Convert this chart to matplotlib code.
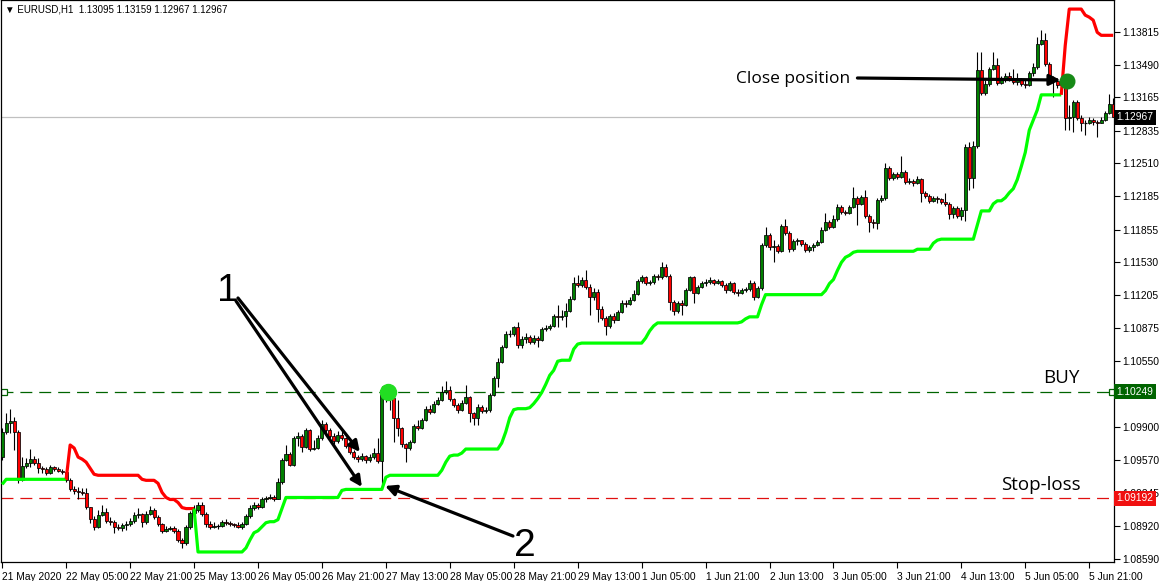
import numpy as np
import matplotlib
matplotlib.use('Agg')
import matplotlib.pyplot as plt
from matplotlib.transforms import blended_transform_factory

plt.rcParams['font.family'] = ['Liberation Sans', 'DejaVu Sans']
plt.rcParams['lines.scale_dashes'] = False

# ---------------- data (EURUSD H1) ----------------
first_open = 1.0960
close = [
    1.0985, 1.0994, 1.0996, 1.0985, 1.0937, 1.0951, 1.0954, 1.0958, 1.0954, 1.0949,
    1.0948, 1.0944, 1.0950, 1.0948, 1.0946, 1.0945, 1.0937, 1.0928, 1.0926, 1.0925,
    1.0924, 1.0911, 1.0899, 1.0891, 1.0903, 1.0906, 1.0897, 1.0896, 1.0891, 1.0890,
    1.0893, 1.0894, 1.0897, 1.0903, 1.0904, 1.0896, 1.0904, 1.0908, 1.0901, 1.0894,
    1.0887, 1.0889, 1.0890, 1.0887, 1.0878, 1.0875, 1.0891, 1.0905, 1.0908, 1.0913,
    1.0904, 1.0894, 1.0891, 1.0892, 1.0892, 1.0896, 1.0895, 1.0894, 1.0893, 1.0891,
    1.0894, 1.0902, 1.0910, 1.0913, 1.0911, 1.0918, 1.0919, 1.0920, 1.0918, 1.0935,
    1.0957, 1.0963, 1.0952, 1.0979, 1.0981, 1.0970, 1.0987, 1.0968, 1.0969, 1.0979,
    1.0993, 1.0987, 1.0981, 1.0976, 1.0982, 1.0979, 1.0971, 1.0965, 1.0960, 1.0958,
    1.0961, 1.0957, 1.0960, 1.0964, 1.0956, 1.1027, 1.1024, 1.1019, 1.0999, 1.0989,
    1.0973, 1.0969, 1.0975, 1.0991, 1.0989, 1.0997, 1.1008, 1.1005, 1.1013, 1.1017,
    1.1025, 1.1027, 1.1018, 1.1012, 1.1007, 1.1014, 1.1020, 1.1004, 1.0999, 1.1010,
    1.1006, 1.1007, 1.1022, 1.1038, 1.1054, 1.1069, 1.1082, 1.1082, 1.1089, 1.1071,
    1.1077, 1.1079, 1.1074, 1.1078, 1.1076, 1.1087, 1.1088, 1.1090, 1.1100, 1.1099,
    1.1100, 1.1105, 1.1117, 1.1133, 1.1131, 1.1136, 1.1129, 1.1119, 1.1124, 1.1107,
    1.1098, 1.1090, 1.1100, 1.1096, 1.1104, 1.1113, 1.1112, 1.1116, 1.1122, 1.1135,
    1.1138, 1.1133, 1.1134, 1.1139, 1.1138, 1.1148, 1.1139, 1.1114, 1.1105, 1.1113,
    1.1111, 1.1126, 1.1138, 1.1123, 1.1129, 1.1133, 1.1134, 1.1136, 1.1133, 1.1135,
    1.1131, 1.1126, 1.1133, 1.1124, 1.1123, 1.1126, 1.1127, 1.1133, 1.1119, 1.1128,
    1.1170, 1.1180, 1.1168, 1.1169, 1.1164, 1.1189, 1.1182, 1.1166, 1.1174, 1.1175,
    1.1171, 1.1165, 1.1168, 1.1170, 1.1173, 1.1185, 1.1193, 1.1188, 1.1196, 1.1208,
    1.1203, 1.1202, 1.1208, 1.1217, 1.1211, 1.1218, 1.1199, 1.1193, 1.1192, 1.1215,
    1.1217, 1.1247, 1.1237, 1.1241, 1.1238, 1.1243, 1.1233, 1.1234, 1.1232, 1.1236,
    1.1222, 1.1219, 1.1214, 1.1217, 1.1216, 1.1213, 1.1211, 1.1201, 1.1207, 1.1199,
    1.1205, 1.1267, 1.1237, 1.1268, 1.1344, 1.1321, 1.1330, 1.1345, 1.1349, 1.1331,
    1.1334, 1.1338, 1.1335, 1.1332, 1.1334, 1.1330, 1.1329, 1.1341, 1.1347, 1.1369,
    1.1373, 1.1350, 1.1334, 1.1333, 1.1329, 1.1331, 1.1296, 1.1297, 1.1312, 1.1296,
    1.1291, 1.1291, 1.1294, 1.1292, 1.1291, 1.1294, 1.1301, 1.13095, 1.12967,
]
high = [
    1.0989, 1.1004, 1.1008, 1.1000, 1.0987, 1.0960, 1.0959, 1.0968, 1.0961, 1.0959,
    1.0951, 1.0950, 1.0952, 1.0951, 1.0950, 1.0948, 1.0946, 1.0939, 1.0931, 1.0930,
    1.0929, 1.0929, 1.0911, 1.0902, 1.0908, 1.0913, 1.0910, 1.0901, 1.0898, 1.0894,
    1.0895, 1.0897, 1.0900, 1.0906, 1.0910, 1.0905, 1.0907, 1.0912, 1.0910, 1.0903,
    1.0895, 1.0892, 1.0892, 1.0892, 1.0889, 1.0880, 1.0893, 1.0907, 1.0913, 1.0916,
    1.0916, 1.0906, 1.0897, 1.0896, 1.0894, 1.0898, 1.0899, 1.0897, 1.0895, 1.0896,
    1.0896, 1.0904, 1.0913, 1.0916, 1.0915, 1.0920, 1.0921, 1.0923, 1.0922, 1.0939,
    1.0959, 1.0972, 1.0965, 1.0981, 1.0985, 1.0983, 1.0989, 1.0988, 1.0977, 1.0982,
    1.0997, 1.0995, 1.0989, 1.0984, 1.0986, 1.0987, 1.0980, 1.0973, 1.0967, 1.0962,
    1.0964, 1.0962, 1.0963, 1.0969, 1.0979, 1.1030, 1.1029, 1.1024, 1.1019, 1.1017,
    1.0990, 1.0974, 1.0977, 1.0993, 1.0997, 1.0999, 1.1011, 1.1012, 1.1016, 1.1020,
    1.1030, 1.1035, 1.1030, 1.1019, 1.1014, 1.1017, 1.1031, 1.1021, 1.1005, 1.1013,
    1.1012, 1.1010, 1.1024, 1.1040, 1.1058, 1.1071, 1.1085, 1.1086, 1.1090, 1.1094,
    1.1080, 1.1083, 1.1081, 1.1081, 1.1080, 1.1089, 1.1091, 1.1092, 1.1102, 1.1111,
    1.1106, 1.1113, 1.1120, 1.1138, 1.1140, 1.1138, 1.1145, 1.1132, 1.1128, 1.1127,
    1.1110, 1.1100, 1.1102, 1.1103, 1.1106, 1.1116, 1.1116, 1.1119, 1.1126, 1.1137,
    1.1140, 1.1139, 1.1136, 1.1141, 1.1141, 1.1153, 1.1151, 1.1141, 1.1116, 1.1115,
    1.1116, 1.1128, 1.1139, 1.1139, 1.1131, 1.1135, 1.1137, 1.1138, 1.1137, 1.1137,
    1.1136, 1.1133, 1.1135, 1.1134, 1.1127, 1.1128, 1.1129, 1.1136, 1.1135, 1.1130,
    1.1172, 1.1188, 1.1182, 1.1175, 1.1171, 1.1191, 1.1196, 1.1184, 1.1176, 1.1177,
    1.1175, 1.1173, 1.1170, 1.1172, 1.1175, 1.1188, 1.1202, 1.1195, 1.1200, 1.1211,
    1.1210, 1.1205, 1.1210, 1.1228, 1.1219, 1.1220, 1.1225, 1.1201, 1.1196, 1.1217,
    1.1220, 1.1251, 1.1248, 1.1243, 1.1243, 1.1258, 1.1245, 1.1237, 1.1236, 1.1239,
    1.1237, 1.1224, 1.1221, 1.1219, 1.1219, 1.1217, 1.1222, 1.1213, 1.1209, 1.1209,
    1.1208, 1.1270, 1.1272, 1.1273, 1.1361, 1.1361, 1.1334, 1.1347, 1.1361, 1.1356,
    1.1338, 1.1341, 1.1342, 1.1345, 1.1341, 1.1336, 1.1334, 1.1343, 1.1351, 1.1376,
    1.1383, 1.1380, 1.1352, 1.1338, 1.1336, 1.1335, 1.1334, 1.1309, 1.1314, 1.1314,
    1.1299, 1.1294, 1.1297, 1.1296, 1.1294, 1.1297, 1.1303, 1.1320, 1.13159,
]
low = [
    1.0957, 1.0983, 1.0984, 1.0967, 1.0934, 1.0936, 1.0949, 1.0950, 1.0952, 1.0944,
    1.0944, 1.0942, 1.0943, 1.0946, 1.0945, 1.0943, 1.0935, 1.0926, 1.0923, 1.0918,
    1.0922, 1.0909, 1.0895, 1.0888, 1.0890, 1.0902, 1.0895, 1.0893, 1.0885, 1.0888,
    1.0887, 1.0888, 1.0892, 1.0895, 1.0900, 1.0891, 1.0894, 1.0903, 1.0899, 1.0892,
    1.0885, 1.0886, 1.0888, 1.0885, 1.0876, 1.0870, 1.0873, 1.0889, 1.0903, 1.0906,
    1.0902, 1.0891, 1.0889, 1.0890, 1.0889, 1.0891, 1.0893, 1.0892, 1.0891, 1.0890,
    1.0889, 1.0893, 1.0900, 1.0908, 1.0909, 1.0910, 1.0916, 1.0918, 1.0917, 1.0918,
    1.0933, 1.0956, 1.0951, 1.0951, 1.0971, 1.0965, 1.0969, 1.0966, 1.0967, 1.0968,
    1.0977, 1.0983, 1.0979, 1.0973, 1.0974, 1.0977, 1.0969, 1.0963, 1.0958, 1.0955,
    1.0956, 1.0954, 1.0955, 1.0958, 1.0954, 1.0932, 1.1015, 1.1007, 1.0975, 1.0981,
    1.0970, 1.0955, 1.0967, 1.0974, 1.0987, 1.0988, 1.0996, 1.1003, 1.1004, 1.1012,
    1.1016, 1.1023, 1.1016, 1.1010, 1.1004, 1.1006, 1.1013, 1.0995, 1.0992, 1.0992,
    1.1004, 1.1004, 1.1005, 1.1021, 1.1029, 1.1053, 1.1068, 1.1079, 1.1080, 1.1068,
    1.1068, 1.1073, 1.1072, 1.1072, 1.1069, 1.1075, 1.1085, 1.1086, 1.1089, 1.1089,
    1.1096, 1.1089, 1.1104, 1.1116, 1.1129, 1.1129, 1.1127, 1.1101, 1.1116, 1.1094,
    1.1096, 1.1081, 1.1088, 1.1093, 1.1096, 1.1103, 1.1109, 1.1111, 1.1115, 1.1121,
    1.1133, 1.1131, 1.1131, 1.1132, 1.1136, 1.1137, 1.1138, 1.1106, 1.1101, 1.1103,
    1.1101, 1.1110, 1.1125, 1.1113, 1.1122, 1.1128, 1.1130, 1.1132, 1.1131, 1.1132,
    1.1129, 1.1123, 1.1125, 1.1122, 1.1120, 1.1122, 1.1124, 1.1125, 1.1116, 1.1118,
    1.1126, 1.1168, 1.1165, 1.1153, 1.1162, 1.1163, 1.1180, 1.1163, 1.1164, 1.1170,
    1.1169, 1.1163, 1.1163, 1.1164, 1.1169, 1.1172, 1.1184, 1.1186, 1.1187, 1.1194,
    1.1201, 1.1200, 1.1201, 1.1207, 1.1190, 1.1210, 1.1197, 1.1183, 1.1187, 1.1186,
    1.1213, 1.1215, 1.1235, 1.1235, 1.1236, 1.1237, 1.1231, 1.1231, 1.1229, 1.1231,
    1.1213, 1.1217, 1.1212, 1.1213, 1.1212, 1.1211, 1.1209, 1.1196, 1.1197, 1.1197,
    1.1195, 1.1194, 1.1225, 1.1227, 1.1266, 1.1319, 1.1319, 1.1328, 1.1344, 1.1329,
    1.1330, 1.1332, 1.1333, 1.1330, 1.1329, 1.1328, 1.1326, 1.1328, 1.1338, 1.1345,
    1.1368, 1.1348, 1.1330, 1.1317, 1.1326, 1.1326, 1.1284, 1.1284, 1.1282, 1.1294,
    1.1283, 1.1279, 1.1290, 1.1289, 1.1277, 1.1291, 1.1293, 1.1300, 1.12967,
]

# SuperTrend-like trailing line, split into up (green) and down (red) segments
up1_start = 0
up1 = [1.0933, 1.0938, 1.0938, 1.0938, 1.0938, 1.0938, 1.0938, 1.0938, 1.0938,
       1.0938, 1.0938, 1.0938, 1.0938, 1.0938, 1.0938, 1.0938, 1.0938]
down1_start = 16
down1 = [1.0938, 1.0972, 1.0969, 1.0960, 1.0958, 1.0955, 1.0949, 1.0943,
         1.0942, 1.0942, 1.0942, 1.0942, 1.0942, 1.0942, 1.0942, 1.0942, 1.0942, 1.0942, 1.0942,
         1.0938, 1.0937, 1.0937, 1.0937, 1.0934, 1.0925, 1.0920, 1.0918, 1.0918, 1.0915,
         1.0910, 1.0909, 1.0909, 1.0909]
up2_start = 48
up2 = [1.0909,
       1.0866, 1.0866, 1.0866, 1.0866, 1.0866, 1.0866, 1.0866, 1.0866, 1.0866, 1.0866, 1.0866, 1.0866,
       1.0870, 1.0878, 1.0885, 1.0887, 1.0891, 1.0895, 1.0896, 1.0896, 1.0898, 1.0909,
       1.0920, 1.0920, 1.0920, 1.0920, 1.0920, 1.0920, 1.0920, 1.0920, 1.0920, 1.0920, 1.0920, 1.0920, 1.0920, 1.0920,
       1.0927,
       1.0928, 1.0928, 1.0928, 1.0928, 1.0928, 1.0928, 1.0928, 1.0928, 1.0928, 1.0928,
       1.0940,
       1.0942, 1.0942, 1.0942, 1.0942, 1.0942, 1.0942, 1.0942, 1.0942, 1.0942, 1.0942, 1.0942, 1.0942, 1.0942,
       1.0947, 1.0955, 1.0961, 1.0962, 1.0962, 1.0964,
       1.0968, 1.0968, 1.0968, 1.0968, 1.0968, 1.0968, 1.0968, 1.0968, 1.0968,
       1.0974, 1.0985, 1.0999, 1.1007, 1.1008, 1.1008, 1.1008, 1.1009, 1.1013, 1.1018,
       1.1024, 1.1032, 1.1041, 1.1046, 1.1055, 1.1056, 1.1056, 1.1056, 1.1067, 1.1072,
       1.1073, 1.1073, 1.1073, 1.1073, 1.1073, 1.1073, 1.1073, 1.1073, 1.1073, 1.1073, 1.1073, 1.1073,
       1.1073, 1.1073, 1.1073, 1.1073,
       1.1078, 1.1085, 1.1090,
       1.1093, 1.1093, 1.1093, 1.1093, 1.1093, 1.1093, 1.1093, 1.1093, 1.1093, 1.1093, 1.1093,
       1.1093, 1.1093, 1.1093, 1.1093, 1.1093, 1.1093, 1.1093, 1.1093, 1.1093, 1.1093,
       1.1094, 1.1097, 1.1099, 1.1099, 1.1099, 1.1111,
       1.1121, 1.1121, 1.1121, 1.1121, 1.1121, 1.1121, 1.1121, 1.1121, 1.1121, 1.1121, 1.1121,
       1.1121, 1.1121, 1.1121, 1.1121,
       1.1125, 1.1132, 1.1136, 1.1145, 1.1153, 1.1158, 1.1160, 1.1163,
       1.1164, 1.1164, 1.1164, 1.1164, 1.1164, 1.1164, 1.1164, 1.1164, 1.1164, 1.1164, 1.1164,
       1.1164, 1.1164, 1.1164, 1.1164,
       1.1166, 1.1166, 1.1166, 1.1166,
       1.1172, 1.1175,
       1.1176, 1.1176, 1.1176, 1.1176, 1.1176, 1.1176, 1.1176, 1.1176, 1.1176,
       1.1190, 1.1204, 1.1204, 1.1204, 1.1211, 1.1214, 1.1214, 1.1217, 1.1222, 1.1226,
       1.1235, 1.1248, 1.1262, 1.1284, 1.1294, 1.1304,
       1.1319, 1.1319, 1.1319, 1.1319, 1.1319, 1.1319]
down2_start = 265
down2 = [1.1319, 1.1368, 1.1404, 1.1404, 1.1404, 1.1404, 1.1398, 1.1396, 1.1393,
         1.1381, 1.1378, 1.1378, 1.1378, 1.1378]

tick_bars = [0, 16, 32, 48, 64, 80, 96, 112, 128, 144, 160, 176, 192, 208, 224, 240, 256, 272]
tick_labels = ["21 May 2020", "22 May 05:00", "22 May 21:00", "25 May 13:00", "26 May 05:00",
               "26 May 21:00", "27 May 13:00", "28 May 05:00", "28 May 21:00", "29 May 13:00",
               "1 Jun 05:00", "1 Jun 21:00", "2 Jun 13:00", "3 Jun 05:00", "3 Jun 21:00",
               "4 Jun 13:00", "5 Jun 05:00", "5 Jun 21:00"]
price_ticks = [1.13815, 1.13490, 1.13165, 1.12835, 1.12510, 1.12185, 1.11855, 1.11530,
               1.11205, 1.10875, 1.10550, 1.09900, 1.09570, 1.09245, 1.08920, 1.08590]

current_price = 1.12967
buy_price = 1.10249
stop_price = 1.09192
entry_bar, entry_price = 96.5, 1.1025
exit_bar, exit_price = 266.5, 1.1333

# ---------------- figure ----------------
W, H = 1163, 581
fig = plt.figure(figsize=(W / 100, H / 100), dpi=100)
fig.patch.set_facecolor('white')
ax = fig.add_axes([1 / W, 19 / H, 1113 / W, 562 / H])
ax.set_xlim(-0.3, 278.2)
ax.set_ylim(1.085606, 1.1413)

n = len(close)
idx = np.arange(n)
c_arr = np.array(close)
o_arr = np.r_[first_open, c_arr[:-1]]
h_arr = np.maximum(np.array(high), np.maximum(o_arr, c_arr))
l_arr = np.minimum(np.array(low), np.minimum(o_arr, c_arr))

# reference lines
ax.axhline(current_price, color='#c0c0c0', lw=0.9, zorder=1)
ax.axhline(buy_price, color='#006400', lw=0.9, dashes=(8.6, 5.0), zorder=1)
ax.axhline(stop_price, color='#e01010', lw=0.9, dashes=(8.6, 5.0), zorder=1)
ax.plot([0.4, 277.6], [buy_price, buy_price], 's', ms=4, mfc='white', mec='#006400', mew=0.9, zorder=2)

# candles
ax.vlines(idx, l_arr, h_arr, color='black', lw=0.8, zorder=3)
body_lo = np.minimum(o_arr, c_arr)
body_h = np.abs(c_arr - o_arr)
colors = np.where(c_arr >= o_arr, '#008000', '#ff0000')
big = body_h >= 0.00003
ax.bar(idx[big], body_h[big], bottom=body_lo[big], width=0.78, color=colors[big],
       edgecolor='black', linewidth=0.55, zorder=4)
ax.hlines(c_arr[~big], idx[~big] - 0.4, idx[~big] + 0.4, color='black', lw=0.9, zorder=4)

# trailing stop lines
for start, vals, col in [(up1_start, up1, '#00ff00'), (down1_start, down1, '#ff0000'),
                         (up2_start, up2, '#00ff00'), (down2_start, down2, '#ff0000')]:
    xs = start + np.arange(len(vals))
    ax.plot(xs, vals, color=col, lw=2.3, solid_capstyle='butt', zorder=5)

# entry / exit markers
ax.plot([entry_bar], [entry_price], 'o', ms=11.5, color='#22dd22', zorder=7)
ax.plot([exit_bar], [exit_price], 'o', ms=10.5, color='#178a17', zorder=7)

# annotations
arrow = dict(arrowstyle='-|>', color='black', lw=2.3, mutation_scale=16, shrinkA=0, shrinkB=0)
ax.annotate('', xy=(89.5, 1.09651), xytext=(59.0, 1.11177), arrowprops=arrow, zorder=8)
ax.annotate('', xy=(90.0, 1.09304), xytext=(58.5, 1.11147), arrowprops=arrow, zorder=8)
ax.annotate('', xy=(95.8, 1.09314), xytext=(127.8, 1.08818), arrowprops=arrow, zorder=8)
ax.annotate('', xy=(264.8, 1.13337), xytext=(214.0, 1.13357), arrowprops=arrow, zorder=8)
ax.text(56.5, 1.11246, '1', fontsize=28, ha='center', va='center', family=['Liberation Sans'])
ax.text(130.8, 1.08719, '2', fontsize=28, ha='center', va='center', family=['Liberation Sans'])
ax.text(265.0, 1.10384, 'BUY', fontsize=13.5, ha='center', va='center', family=['Open Sans'])
ax.text(259.8, 1.09324, 'Stop-loss', fontsize=13.5, ha='center', va='center', family=['Open Sans'])
ax.text(197.8, 1.13347, 'Close position', fontsize=12.5, ha='center', va='center', family=['Open Sans'])

# axes styling
for s in ax.spines.values():
    s.set_color('black')
    s.set_linewidth(0.9)
ax.yaxis.tick_right()
ax.set_yticks(price_ticks)
ax.set_yticklabels([f"{p:.5f}" for p in price_ticks])
ax.set_xticks(tick_bars)
ax.set_xticklabels(tick_labels, ha='left')
ax.tick_params(axis='both', direction='out', length=4, width=0.8, labelsize=7.4, pad=2, colors='black')
ax.tick_params(axis='x', pad=3)
for lab in ax.get_xticklabels():
    lab.set_horizontalalignment('left')

trans = blended_transform_factory(ax.transAxes, ax.transData)
for price, fc in [(current_price, 'black'), (buy_price, '#006400'), (stop_price, '#f01010')]:
    ax.text(1.0022, price, f"{price:.5f}", transform=trans, color='white', fontsize=7.4,
            ha='left', va='center', zorder=10,
            bbox=dict(boxstyle='square,pad=0.22', fc=fc, ec='none'))

fig.text(5 / W, 1 - 9 / H, '\u25bc EURUSD,H1  1.13095 1.13159 1.12967 1.12967',
         fontsize=7.0, ha='left', va='center')

fig.savefig('out.png', dpi=100, facecolor='white')
